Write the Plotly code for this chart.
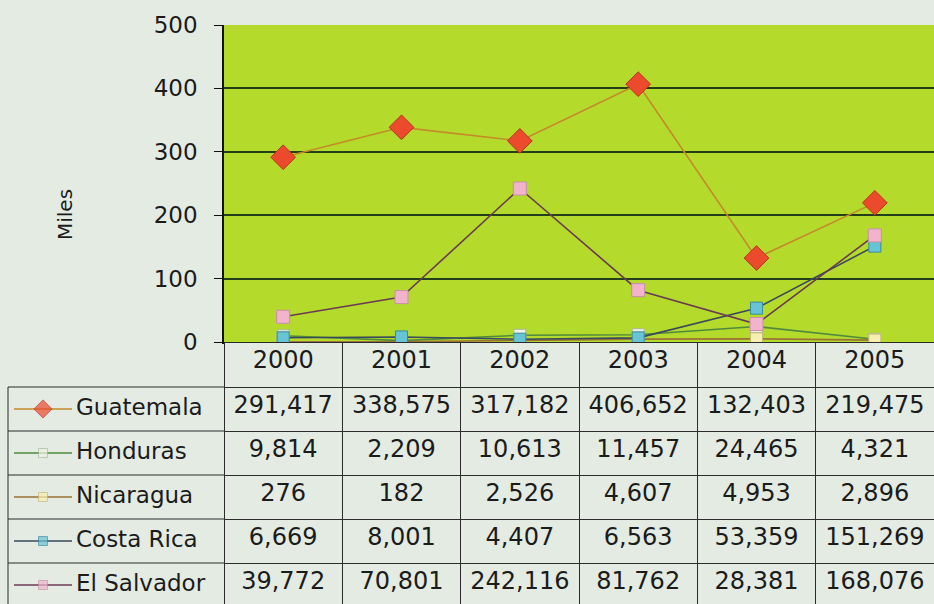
import plotly.graph_objects as go

# datos (en unidades, el grafico va en miles)
years = ["2000", "2001", "2002", "2003", "2004", "2005"]
countries = ["Guatemala", "Honduras", "Nicaragua", "Costa Rica", "El Salvador"]
guatemala = [291417, 338575, 317182, 406652, 132403, 219475]
honduras = [9814, 2209, 10613, 11457, 24465, 4321]
nicaragua = [276, 182, 2526, 4607, 4953, 2896]
costa_rica = [6669, 8001, 4407, 6563, 53359, 151269]
el_salvador = [39772, 70801, 242116, 81762, 28381, 168076]

series = [guatemala, honduras, nicaragua, costa_rica, el_salvador]
line_colors = ["#c48a2a", "#4f8a3c", "#9a7236", "#3a4a5c", "#6b3b52"]
marker_colors = ["#ec4a2c", "#eef4e4", "#f6f0b0", "#66c4d4", "#f2b4cc"]
marker_lines = ["#b8321c", "#a8b8a0", "#c8b878", "#3a8aa0", "#c890a8"]
symbols = ["diamond", "square", "square", "square", "square"]
sizes = [19, 12, 12, 12, 13]
icon_sizes = [14, 9, 9, 9, 9]

W, H = 934, 604
PAGE_BG = "#e3ebe2"
PLOT_BG = "#b4da2c"
FONT = "DejaVu Sans"
INK = "#1b1b1b"

# geometria de la tabla (pixeles)
TABLE_TOP = 342
HEADER_H = 45
ROW_H = 44
FIRST_COL_L = 8
FIRST_COL_R = 224

fig = go.Figure()

for name, vals, lc, mc, ml, sym, sz in zip(countries, series, line_colors, marker_colors, marker_lines, symbols, sizes):
    fig.add_trace(go.Scatter(
        x=years, y=[v / 1000 for v in vals], name=name, mode="lines+markers",
        line=dict(color=lc, width=1.6),
        marker=dict(symbol=sym, size=sz, color=mc, line=dict(color=ml, width=1)),
        showlegend=False,
    ))

# tabla con los valores
fmt = lambda v: f"{v:,}"
fig.add_trace(go.Table(
    domain=dict(x=[FIRST_COL_R / W, 1], y=[0, 1 - TABLE_TOP / H]),
    columnwidth=[1] * len(years),
    header=dict(values=years, height=HEADER_H, align="center",
                fill=dict(color=PAGE_BG), line=dict(color="#2b2b2b", width=1),
                font=dict(family=FONT, size=24, color=INK)),
    cells=dict(values=[[fmt(s[i]) for s in series] for i in range(len(years))],
               height=ROW_H, align="center",
               fill=dict(color=PAGE_BG), line=dict(color="#2b2b2b", width=1),
               font=dict(family=FONT, size=24, color=INK)),
))

# primera columna: simbolo de cada serie + nombre (eje auxiliar en filas)
rows = list(range(len(countries)))
for i, (name, lc, mc, ml, sym, sz) in enumerate(zip(countries, line_colors, marker_colors, marker_lines, symbols, icon_sizes)):
    fig.add_trace(go.Scatter(
        x=[14, 43, 72], y=[i] * 3, mode="lines+markers", xaxis="x2", yaxis="y2",
        line=dict(color=lc, width=1.6),
        marker=dict(symbol=sym, size=[0, sz, 0], color=mc, line=dict(color=ml, width=1)),
        showlegend=False, hoverinfo="skip",
    ))
fig.add_trace(go.Scatter(
    x=[76] * len(countries), y=rows, mode="text", text=countries, textposition="middle right",
    textfont=dict(family=FONT, size=23, color=INK), xaxis="x2", yaxis="y2",
    showlegend=False, hoverinfo="skip",
))

# fondo verde solo en el grafico principal
shapes = [dict(type="rect", xref="x domain", yref="y domain", x0=0, x1=1, y0=0, y1=1,
               fillcolor=PLOT_BG, line=dict(width=0), layer="below")]
for i in range(len(countries) + 1):
    shapes.append(dict(type="line", xref="x2", yref="y2", x0=FIRST_COL_L, x1=FIRST_COL_R,
                       y0=i - 0.5, y1=i - 0.5, line=dict(color="#2b2b2b", width=1)))
shapes.append(dict(type="line", xref="x2", yref="y2", x0=FIRST_COL_L, x1=FIRST_COL_L,
                   y0=-0.5, y1=len(countries), line=dict(color="#2b2b2b", width=1)))

table_h = H - TABLE_TOP
fig.update_layout(
    width=W, height=H,
    margin=dict(l=0, r=0, t=0, b=0, autoexpand=False),
    paper_bgcolor=PAGE_BG, plot_bgcolor=PAGE_BG,
    font=dict(family=FONT, size=23, color=INK),
    xaxis=dict(domain=[FIRST_COL_R / W, 1], range=[-0.5, 5.5], showticklabels=False, automargin=False,
               showgrid=False, showline=True, linecolor="#111", linewidth=1.5, ticks="", zeroline=False),
    yaxis=dict(domain=[1 - TABLE_TOP / H, 1 - 25 / H], range=[0, 500], dtick=100, automargin=False,
               showgrid=True, gridcolor="#24401a", gridwidth=1.5, zeroline=False,
               showline=True, linecolor="#111", linewidth=1.5,
               ticks="outside", ticklen=8, tickcolor="#111", ticklabelstandoff=12,
               tickfont=dict(family=FONT, size=23, color=INK)),
    xaxis2=dict(domain=[0, FIRST_COL_R / W], range=[0, FIRST_COL_R], visible=False,
                fixedrange=True, automargin=False),
    yaxis2=dict(domain=[0, 1 - TABLE_TOP / H], visible=False, fixedrange=True, automargin=False,
                range=[(table_h - HEADER_H) / ROW_H - 0.5, -HEADER_H / ROW_H - 0.5]),
    shapes=shapes,
    annotations=[dict(text="Miles", xref="paper", yref="paper", x=65 / W, y=1 - 215 / H,
                      xanchor="center", yanchor="middle", textangle=-90, showarrow=False,
                      font=dict(family=FONT, size=20, color=INK))],
)

fig.write_html("out.html", config={"displayModeBar": False}, post_script=(
    "document.body.style.margin='0';document.body.style.overflow='hidden';"
    f"document.body.style.background='{PAGE_BG}';"))
